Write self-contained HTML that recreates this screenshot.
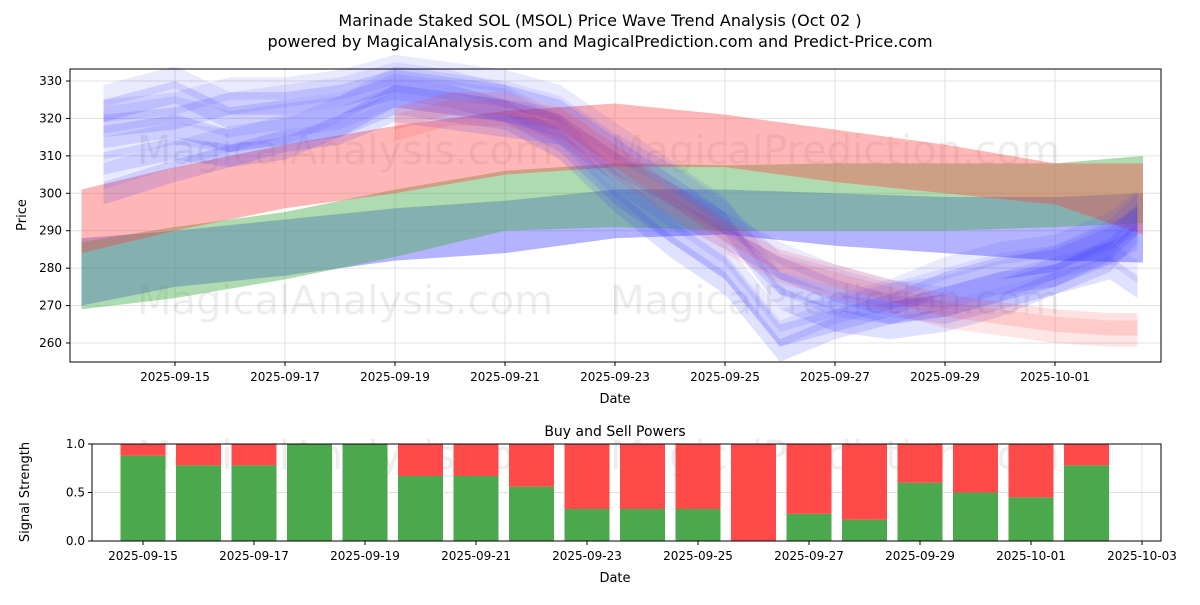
<!DOCTYPE html>
<html><head><meta charset="utf-8"><style>
body{margin:0;background:#fff;font-family:"Liberation Sans","DejaVu Sans",sans-serif}
svg text{font-family:"DejaVu Sans","Liberation Sans",sans-serif}
</style></head><body>
<svg id="c" width="1200" height="600" xmlns="http://www.w3.org/2000/svg">
<rect width="1200" height="600" fill="#fff"/>
<text x="600" y="26" text-anchor="middle" font-size="16">Marinade Staked SOL (MSOL) Price Wave Trend Analysis (Oct 02 )</text>
<text x="600" y="47" text-anchor="middle" font-size="16">powered by MagicalAnalysis.com and MagicalPrediction.com and Predict-Price.com</text>
<g id="topg"></g><g id="botg"></g>
</svg>
<script>
const bandDays=[0.3,2,4,6,8,10,12,14,16,18,19.6];
const greenUpper=[287,291,295,301,306,308,307.5,308,308,308,310];
const greenLower=[269,272,277,283,290,291,290,290,290,291,292];
const blueUpper=[288,290,293,296,298,301,301,300,299,299,300];
const blueLower=[270,275,278,282,284,288,289,286,284,282,281.5];
const redUpper=[301,307,313,318,322,324,321,317,313,308,308];
const redLower=[284,290,296,300,305,307,307,303,300,297,289];
const waveDays=[0.7,2,3,4,5,6,7,8,9,10,11,12,13,14,15,16,17,18,19,19.5];
const waveA=[322,327,320,322,324,328,326,322,314,300,290,280,262,266,270,276,280,282,288,294];
const waveB=[315,318,314,316,318,324,322,320,312,298,286,276,258,264,268,270,274,278,285,292];
const waveC=[308,312,310,314,316,322,320,318,316,306,296,288,280,274,270,268,272,276,282,290];
const waveD=[300,306,310,312,318,326,324,322,318,308,300,290,276,272,268,272,276,278,284,288];
const waveE=[318,320,324,324,326,330,328,326,322,312,302,292,272,266,264,266,270,276,280,275];
const redWaveDays=[6,7,8,9,10,11,12,13,14,15,16,17,18,19,19.5];
const redWave=[320,324,324,320,310,300,290,282,278,274,270,268,266,265,265];
const priceTicks=[260,270,280,290,300,310,320,330];
const dateTicks=["2025-09-15","2025-09-17","2025-09-19","2025-09-21","2025-09-23","2025-09-25","2025-09-27","2025-09-29","2025-10-01"];
const dateTickDays=[2,4,6,8,10,12,14,16,18];
const barDays=[2,3,4,5,6,7,8,9,10,11,12,13,14,15,16,17,18,19];
const buyPower=[0.88,0.78,0.78,1,1,0.67,0.67,0.56,0.33,0.33,0.33,0,0.28,0.22,0.6,0.5,0.45,0.78];
const botTicks=["2025-09-15","2025-09-17","2025-09-19","2025-09-21","2025-09-23","2025-09-25","2025-09-27","2025-09-29","2025-10-01","2025-10-03"];
const botTickDays=[2,4,6,8,10,12,14,16,18,20];
const NS="http://www.w3.org/2000/svg";
const X=d=>65+d*55, Y=p=>81+(330-p)*3.743;
const X2=d=>32+d*55.5, Y2=v=>541-v*97;
function el(t,a,p){const e=document.createElementNS(NS,t);for(const k in a)e.setAttribute(k,a[k]);p.appendChild(e);return e;}
const topG=document.getElementById('topg'),botG=document.getElementById('botg');
priceTicks.forEach(p=>{const g=el('line',{x1:70,x2:1161,y1:Y(p),y2:Y(p),stroke:'#e0e0e0'},topG);

el('line',{x1:66,x2:70,y1:Y(p),y2:Y(p),stroke:'#000'},topG);
const t=el('text',{x:62,y:Y(p)+4,'text-anchor':'end','font-size':12},topG);t.textContent=p;
});
dateTickDays.forEach((d,i)=>{el('line',{x1:X(d),x2:X(d),y1:69,y2:362,stroke:'#e0e0e0'},topG);
el('line',{x1:X(d),x2:X(d),y1:362,y2:366,stroke:'#000'},topG);
const t=el('text',{x:X(d),y:381,'text-anchor':'middle','font-size':12},topG);t.textContent=dateTicks[i];
});
[[345,150,'MagicalAnalysis.com'],[835,150,'MagicalPrediction.com'],[345,300,'MagicalAnalysis.com'],[835,300,'MagicalPrediction.com'],[345,455,'MagicalAnalysis.com'],[835,455,'MagicalPrediction.com']].forEach(w=>{
const t=el('text',{x:w[0],y:w[1]+14,'text-anchor':'middle','font-size':40,fill:'#000','fill-opacity':0.07},w[1]>400?botG:topG);t.textContent=w[2];
});
function band(days,up,lo,col,op,name){
let pts=days.map((d,i)=>X(d)+','+Y(up[i]));
for(let i=days.length-1;i>=0;i--)pts.push(X(days[i])+','+Y(lo[i]));
const p=el('polygon',{points:pts.join(' '),fill:col,'fill-opacity':op},topG);
}
band(bandDays,blueUpper,blueLower,'#4040ff',0.4,'blue-band');
band(bandDays,greenUpper,greenLower,'#4caf50',0.45,'green-band');
band(bandDays,redUpper,redLower,'#ff4040',0.38,'red-band');
[waveA,waveB,waveC,waveD,waveE].forEach((w,k)=>{
band(waveDays,w.map(v=>v+3),w.map(v=>v-3),'#3030ff',0.15,'blue-wave');
band(waveDays,w.map(v=>v+7+k%2),w.map(v=>v+1),'#3030ff',0.1,'blue-wave');});
band(redWaveDays,redWave.map(v=>v+3),redWave.map(v=>v-3),'#ff3030',0.15,'red-wave');
band(redWaveDays,redWave.map(v=>v+1),redWave.map(v=>v-6),'#ff3030',0.12,'red-wave');
el('rect',{x:70,y:69,width:1091,height:293,fill:'none',stroke:'#000'},topG);
let t=el('text',{x:615,y:403,'text-anchor':'middle','font-size':13},topG);t.textContent='Date';

t=el('text',{x:26,y:215,'text-anchor':'middle','font-size':13,transform:'rotate(-90 26 215)'},topG);t.textContent='Price';

[0,0.5,1].forEach(v=>{el('line',{x1:92,x2:1161,y1:Y2(v),y2:Y2(v),stroke:'#e0e0e0'},botG);
el('line',{x1:88,x2:92,y1:Y2(v),y2:Y2(v),stroke:'#000'},botG);
const t=el('text',{x:85,y:Y2(v)+4,'text-anchor':'end','font-size':12},botG);t.textContent=v.toFixed(1);
});
botTickDays.forEach((d,i)=>{el('line',{x1:X2(d),x2:X2(d),y1:444,y2:541,stroke:'#e0e0e0'},botG);
el('line',{x1:X2(d),x2:X2(d),y1:541,y2:545,stroke:'#000'},botG);
const t=el('text',{x:X2(d),y:560,'text-anchor':'middle','font-size':12},botG);t.textContent=botTicks[i];
});
barDays.forEach((d,i)=>{const v=buyPower[i];
const g=el('rect',{x:X2(d)-22.5,y:Y2(v),width:45,height:Y2(0)-Y2(v),fill:'#4ca84c'},botG);

const r=el('rect',{x:X2(d)-22.5,y:Y2(1),width:45,height:Y2(v)-Y2(1),fill:'#ff4a4a'},botG);
});
el('rect',{x:92,y:444,width:1069,height:97,fill:'none',stroke:'#000'},botG);
t=el('text',{x:615,y:436,'text-anchor':'middle','font-size':14},botG);t.textContent='Buy and Sell Powers';

t=el('text',{x:615,y:582,'text-anchor':'middle','font-size':13},botG);t.textContent='Date';

t=el('text',{x:29,y:492,'text-anchor':'middle','font-size':13,transform:'rotate(-90 29 492)'},botG);t.textContent='Signal Strength';

</script>
</body></html>
